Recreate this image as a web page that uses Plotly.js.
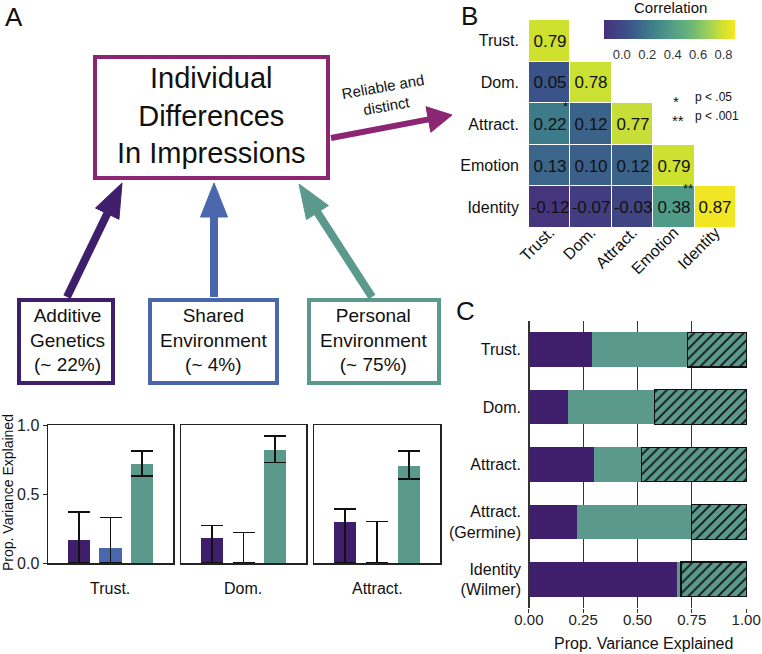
<!DOCTYPE html>
<html>
<head>
<meta charset="utf-8">
<script src="https://cdn.plot.ly/plotly-3.0.1.min.js"></script>
<style>
  body { margin: 0; background: #fff; }
  #fig { width: 762px; height: 654px; }
</style>
</head>
<body>
<div id="fig"></div>
<script>
// ---- data ----
// panel A: variance components (A = additive genetics, C = shared env, E = personal env)
let traitsA = ['Trust.', 'Dom.', 'Attract.'];
let compA = [0.17, 0.18, 0.30];
let compC = [0.11, 0.0, 0.0];
let compE = [0.72, 0.82, 0.70];
let errHiA = [0.37, 0.27, 0.39];
let errHiC = [0.33, 0.22, 0.30];
let errHiE = [0.81, 0.92, 0.81];
let errLoE = [0.63, 0.73, 0.61];

// panel B: correlation matrix (lower triangle)
let corrLabels = ['Trust.', 'Dom.', 'Attract.', 'Emotion', 'Identity'];
let corrRows = [
  [0.79, null, null, null, null],
  [0.05, 0.78, null, null, null],
  [0.22, 0.12, 0.77, null, null],
  [0.13, 0.10, 0.12, 0.79, null],
  [-0.12, -0.07, -0.03, 0.38, 0.87]
];

// panel C: stacked proportions
let traitsC = ['Trust.', 'Dom.', 'Attract.', 'Attract.<br>(Germine)', 'Identity<br>(Wilmer)'];
let geneticC = [0.29, 0.18, 0.30, 0.22, 0.68];
let personalC = [0.44, 0.40, 0.22, 0.53, 0.02];
let residualC = [0.27, 0.42, 0.48, 0.25, 0.30];

// ---- styles ----
const W = 762, H = 654;
const PURPLE = '#3f1f6c', BLUE = '#4a66ad', TEAL = '#5a998c', MAGENTA = '#8c2672';
const FONT = 'Liberation Sans, Arial, sans-serif';

function px(x) { return x / W; }
function py(y) { return 1 - y / H; }

// muted viridis-like scale as printed in the figure
let corrScale = [
  [0, '#47307c'], [0.184, '#3a5388'], [0.35, '#3d7b8a'], [0.505, '#4f9b88'],
  [0.67, '#6db874'], [0.816, '#a5d454'], [0.903, '#cfe12f'], [1, '#f8e721']
];

function errorBars(vals, hi, lo) {
  return {
    type: 'data', symmetric: false,
    array: vals.map((v, i) => hi[i] - v),
    arrayminus: vals.map((v, i) => v - lo[i]),
    color: '#111', thickness: 1.5, width: 11
  };
}

let traces = [];
let axisRefs = [['x', 'y'], ['x2', 'y2'], ['x3', 'y3']];
for (let i = 0; i < traitsA.length; i++) {
  let vals = [compA[i], compC[i], compE[i]];
  traces.push({
    type: 'bar',
    x: [1, 2, 3],
    y: vals,
    width: 0.7,
    xaxis: axisRefs[i][0], yaxis: axisRefs[i][1],
    marker: { color: [PURPLE, BLUE, TEAL] },
    error_y: errorBars(vals, [errHiA[i], errHiC[i], errHiE[i]], [0, 0, errLoE[i]]),
    hoverinfo: 'skip', showlegend: false
  });
}

// heatmap
let corrText = corrRows.map(r => r.map(v => v === null ? '' : v.toFixed(2)));
traces.push({
  type: 'heatmap',
  z: corrRows,
  x: corrLabels,
  y: corrLabels,
  text: corrText,
  texttemplate: '%{text}',
  textfont: { size: 17, color: '#111', family: FONT },
  xaxis: 'x4', yaxis: 'y4',
  zmin: -0.14, zmax: 0.89,
  colorscale: corrScale,
  xgap: 1, ygap: 1,
  hoverinfo: 'skip',
  colorbar: {
    orientation: 'h',
    x: px(669.5), xanchor: 'center',
    y: py(20), yanchor: 'top',
    len: px(131), lenmode: 'fraction',
    thickness: 19,
    outlinewidth: 0,
    xpad: 0, ypad: 0,
    tickvals: [0, 0.2, 0.4, 0.6, 0.8],
    ticktext: ['0.0', '0.2', '0.4', '0.6', '0.8'],
    ticks: 'outside', ticklen: 5, tickcolor: 'white', tickwidth: 1,
    tickfont: { size: 13, color: '#333' },
    title: { text: '' }
  }
});

// panel C stacked bars
traces.push({
  type: 'bar', orientation: 'h',
  y: traitsC, x: geneticC, width: 0.6,
  xaxis: 'x5', yaxis: 'y5',
  marker: { color: PURPLE },
  hoverinfo: 'skip', showlegend: false
});
traces.push({
  type: 'bar', orientation: 'h',
  y: traitsC, x: personalC, width: 0.6,
  xaxis: 'x5', yaxis: 'y5',
  marker: { color: TEAL },
  hoverinfo: 'skip', showlegend: false
});
traces.push({
  type: 'bar', orientation: 'h',
  y: traitsC, x: residualC, width: 0.6,
  xaxis: 'x5', yaxis: 'y5',
  marker: {
    color: TEAL,
    line: { color: '#111', width: 1.2 },
    pattern: { shape: '/', fgcolor: '#111', bgcolor: TEAL, fillmode: 'replace', size: 7, solidity: 0.25 }
  },
  hoverinfo: 'skip', showlegend: false
});

// ---- diagram shapes ----
let shapes = [];
function box(x0, y0, x1, y1, color) {
  shapes.push({
    type: 'rect', xref: 'paper', yref: 'paper',
    x0: px(x0), x1: px(x1), y0: py(y0), y1: py(y1),
    line: { color: color, width: 4 }, fillcolor: 'rgba(0,0,0,0)'
  });
}
function arrow(x0, y0, x1, y1, color, lw, hl, hw) {
  let dx = x1 - x0, dy = y1 - y0;
  let L = Math.hypot(dx, dy);
  let ux = dx / L, uy = dy / L;
  let bx = x1 - ux * hl, by = y1 - uy * hl;
  let nx = -uy, ny = ux;
  shapes.push({
    type: 'line', xref: 'paper', yref: 'paper',
    x0: px(x0), y0: py(y0), x1: px(bx + ux * 3), y1: py(by + uy * 3),
    line: { color: color, width: lw }
  });
  let p = 'M ' + px(x1) + ' ' + py(y1) +
    ' L ' + px(bx + nx * hw / 2) + ' ' + py(by + ny * hw / 2) +
    ' L ' + px(bx - nx * hw / 2) + ' ' + py(by - ny * hw / 2) + ' Z';
  shapes.push({
    type: 'path', xref: 'paper', yref: 'paper', path: p,
    fillcolor: color, line: { color: color, width: 1 }
  });
}

box(95, 57, 328, 178, MAGENTA);
box(19, 300, 113, 383, PURPLE);
box(150, 300, 277, 383, BLUE);
box(309, 300, 439, 383, TEAL);
arrow(331, 138, 452, 115, MAGENTA, 6, 24, 26);
arrow(67, 297, 122, 183, PURPLE, 8, 34, 26);
arrow(214, 297, 214, 183, BLUE, 8, 34, 27);
arrow(372, 297, 299, 184, TEAL, 8, 34, 26);

// ---- text ----
let annotations = [];
function label(x, y, text, size, opts) {
  annotations.push(Object.assign({
    xref: 'paper', yref: 'paper', x: px(x), y: py(y),
    xanchor: 'center', yanchor: 'middle',
    text: text, showarrow: false,
    font: { size: size, color: '#111', family: FONT }
  }, opts || {}));
}

label(14, 17, 'A', 26);
label(469, 16, 'B', 26);
label(466, 311, 'C', 26);
label(211, 115, 'Individual<br>Differences<br>In Impressions', 29);
label(67, 340, 'Additive<br>Genetics<br>(~ 22%)', 19);
label(213, 340, 'Shared<br>Environment<br>(~ 4%)', 19);
label(373, 340, 'Personal<br>Environment<br>(~ 75%)', 19);
label(384, 97, 'Reliable and<br>distinct', 15, { textangle: -10 });
label(8, 493, 'Prop. Variance Explained', 14, { textangle: -90 });
label(110, 588, traitsA[0], 16);
label(243, 588, traitsA[1], 16);
label(377, 588, traitsA[2], 16);
label(565, 107, '*', 13);
label(688, 189, '**', 13);
label(676, 101, '*', 15);
label(678, 120, '**', 15);
label(693, 97, 'p < .05', 12, { xanchor: 'left' });
label(693, 116, 'p < .001', 12, { xanchor: 'left' });
label(670, 8, 'Correlation', 15);
label(643, 643, 'Prop. Variance Explained', 16);

// ---- axes ----
const yDomA = [py(563), py(425)];
function panelX(d0, d1) {
  return {
    domain: [px(d0), px(d1)], range: [0.02, 3.98],
    showticklabels: false, ticks: '', showgrid: false, zeroline: false,
    showline: true, mirror: true, linecolor: '#222', linewidth: 1.5, fixedrange: true
  };
}
function panelY(anchor, withTicks) {
  return {
    domain: yDomA, range: [0, 1], anchor: anchor,
    tickvals: [0, 0.5, 1], ticktext: ['0.0', '0.5', '1.0'],
    showticklabels: withTicks, ticks: withTicks ? 'outside' : '', ticklen: 4,
    tickcolor: '#222', tickfont: { size: 16, color: '#222' },
    showgrid: false, zeroline: false,
    showline: true, mirror: true, linecolor: '#222', linewidth: 1.5, fixedrange: true
  };
}

let layout = {
  width: W, height: H,
  margin: { l: 0, r: 0, t: 0, b: 0 },
  paper_bgcolor: 'white', plot_bgcolor: 'rgba(0,0,0,0)',
  font: { family: FONT, color: '#111' },
  barmode: 'stack',
  showlegend: false,
  xaxis: Object.assign(panelX(48, 173), { anchor: 'y' }),
  yaxis: panelY('x', true),
  xaxis2: Object.assign(panelX(181, 306), { anchor: 'y2' }),
  yaxis2: panelY('x2', false),
  xaxis3: Object.assign(panelX(314, 440), { anchor: 'y3' }),
  yaxis3: panelY('x3', false),
  xaxis4: {
    domain: [px(529), px(736)], anchor: 'y4',
    type: 'category', categoryarray: corrLabels,
    tickangle: -45, tickfont: { size: 16, color: '#111' },
    ticks: '', showgrid: false, zeroline: false, showline: false, fixedrange: true,
    ticklabelstandoff: -9
  },
  yaxis4: {
    domain: [py(228), py(20)], anchor: 'x4',
    type: 'category', categoryarray: corrLabels, autorange: 'reversed',
    tickfont: { size: 16, color: '#111' },
    ticks: '', showgrid: false, zeroline: false, showline: false, fixedrange: true,
    ticklabelstandoff: 9
  },
  xaxis5: {
    domain: [px(528), px(747)], anchor: 'y5',
    range: [-0.004, 1.004],
    tickvals: [0, 0.25, 0.5, 0.75, 1],
    ticktext: ['0.00', '0.25', '0.50', '0.75', '1.00'],
    tickfont: { size: 15, color: '#222' },
    ticks: 'outside', ticklen: 4, tickcolor: '#333',
    ticklabelstandoff: -6,
    showgrid: true, gridcolor: '#333', gridwidth: 1.3,
    zeroline: true, zerolinecolor: '#333', zerolinewidth: 1.3,
    showline: false, fixedrange: true
  },
  yaxis5: {
    domain: [py(608), py(321)], anchor: 'x5',
    type: 'category', categoryarray: traitsC, autorange: 'reversed',
    tickfont: { size: 16, color: '#111' },
    ticks: '', showgrid: false, zeroline: false, showline: false, fixedrange: true,
    ticklabelstandoff: 6
  },
  shapes: shapes,
  annotations: annotations
};

Plotly.newPlot('fig', traces, layout, { staticPlot: true, displayModeBar: false });
</script>
</body>
</html>
